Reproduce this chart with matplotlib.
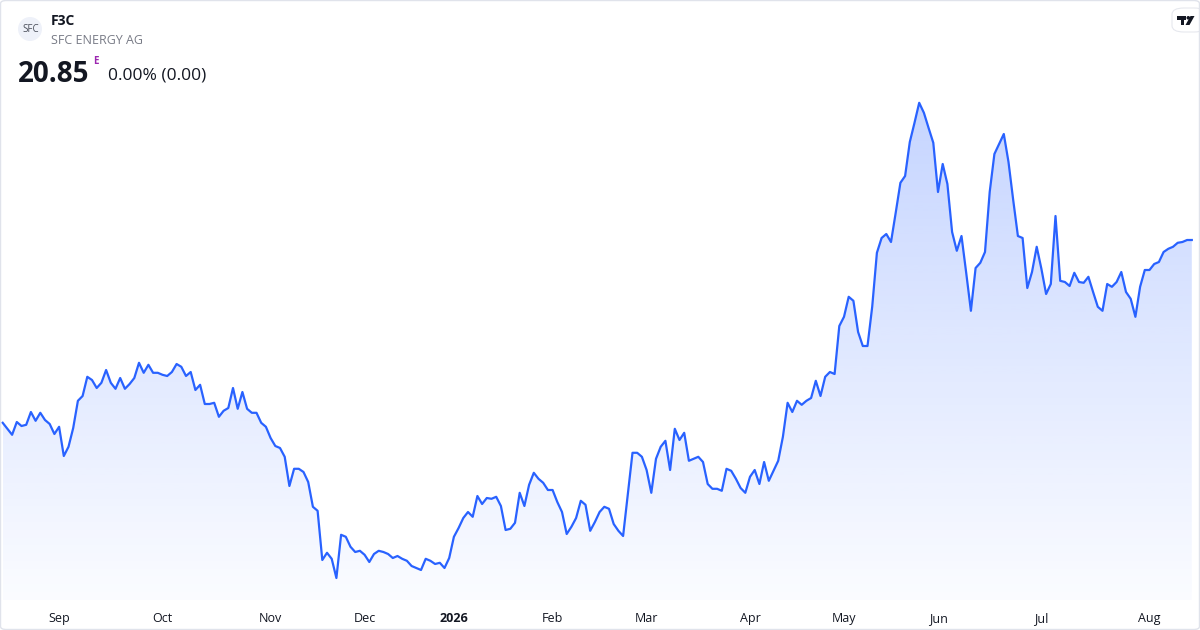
import numpy as np
import pandas as pd
import matplotlib
matplotlib.use("Agg")
import matplotlib.pyplot as plt
from matplotlib.patches import FancyBboxPatch, Circle, Ellipse, Polygon

plt.rcParams['font.family'] = ['Open Sans', 'DejaVu Sans']

# daily closes of F3C (SFC Energy AG), grouped by month
aug_2025 = [16.28, 16.13, 15.98, 16.30, 16.20, 16.23, 16.55, 16.33, 16.53, 16.35, 16.25, 16.00]
sep_2025 = [16.18, 15.45, 15.68, 16.15, 16.83, 16.95, 17.43, 17.35, 17.15, 17.28, 17.60,
            17.28, 17.13, 17.40, 17.13, 17.25, 17.40, 17.78, 17.53, 17.73, 17.53, 17.53]
oct_2025 = [17.48, 17.45, 17.55, 17.75, 17.68, 17.45, 17.55, 17.10, 17.23, 16.75, 16.75, 16.78,
            16.43, 16.58, 16.65, 17.15, 16.63, 17.05, 16.63, 16.53, 16.53, 16.28, 16.18]
nov_2025 = [15.90, 15.70, 15.65, 15.43, 14.70, 15.13, 15.13, 15.05, 14.80, 14.18,
            14.08, 12.85, 13.03, 12.88, 12.40, 13.48, 13.43, 13.18, 13.05, 13.08]
dec_2025 = [12.98, 12.80, 13.00, 13.08, 13.05, 13.00, 12.90, 12.95, 12.88, 12.83,
            12.70, 12.65, 12.60, 12.88, 12.83, 12.75, 12.78, 12.65, 12.90]
jan_2026 = [13.43, 13.65, 13.90, 14.05, 13.93, 14.45, 14.25, 14.40, 14.38, 14.43, 14.20,
            13.60, 13.63, 13.78, 14.53, 14.20, 14.73, 15.03, 14.88, 14.78, 14.60]
feb_2026 = [14.60, 14.30, 14.05, 13.50, 13.68, 13.90, 14.33, 14.23, 13.58, 13.80,
            14.05, 14.18, 14.13, 13.75, 13.58, 13.45, 14.48, 15.53, 15.53, 15.43]
mar_2026 = [15.10, 14.53, 15.38, 15.68, 15.83, 15.10, 16.13, 15.85, 16.03, 15.33, 15.38,
            15.43, 15.30, 14.75, 14.63, 14.63, 14.58, 15.13, 15.08, 14.88, 14.65, 14.53]
apr_2026 = [14.93, 15.10, 14.75, 15.30, 14.83, 15.08, 15.33, 15.93, 16.78, 16.55,
            16.83, 16.73, 16.83, 16.90, 17.33, 16.95, 17.43, 17.55, 17.50, 18.70]
may_2026 = [18.93, 19.43, 19.33, 18.55, 18.20, 18.20, 19.18, 20.53, 20.90, 21.00,
            20.80, 21.53, 22.28, 22.45, 23.30, 23.78, 24.28, 24.03, 23.65, 23.28]
jun_2026 = [22.05, 22.75, 22.25, 21.05, 20.58, 20.95, 20.03, 19.08, 20.15, 20.28, 20.55,
            22.05, 23.00, 23.25, 23.50, 22.80, 21.85, 20.95, 20.90, 19.65, 20.05, 20.68]
jul_2026 = [20.13, 19.50, 19.75, 21.45, 19.83, 19.80, 19.70, 20.03, 19.80, 19.78, 19.93, 19.55,
            19.18, 19.08, 19.75, 19.68, 19.80, 20.05, 19.55, 19.38, 18.93, 19.68, 20.10]
aug_2026 = [20.10, 20.25, 20.30, 20.55, 20.63, 20.68, 20.78, 20.80, 20.85, 20.85]

# Xetra closing days inside the window
holidays = ['2025-12-24', '2025-12-25', '2025-12-26', '2025-12-31', '2026-01-01',
            '2026-04-03', '2026-04-06', '2026-05-01']

ticker = "F3C"
company = "SFC ENERGY AG"
last_price = "20.85"
change_text = "0.00% (0.00)"

closes = np.array(aug_2025 + sep_2025 + oct_2025 + nov_2025 + dec_2025 + jan_2026 + feb_2026
                  + mar_2026 + apr_2026 + may_2026 + jun_2026 + jul_2026 + aug_2026)
dates = pd.bdate_range('2025-08-14', '2026-08-14', freq='C', holidays=holidays)
dates = dates[:len(closes)]
idx = np.arange(len(closes))

W, H = 1200, 630
fig = plt.figure(figsize=(12, 6.3), dpi=100)
fig.patch.set_facecolor('white')
ax = fig.add_axes([0, 0, 1, 1])
ax.set_axis_off()

# 4.7 px per trading day, first point at x=2.7px
ax.set_xlim(-2.7 / 4.7, (W - 2.7) / 4.7)
ax.set_ylim(26.85 - H / 40, 26.85)
base = 26.85 - 600 / 40

blue = '#2962FF'
poly = ax.fill_between(idx, closes, base, facecolor='none', edgecolor='none')
top = closes.max()
grad = np.zeros((256, 1, 4))
grad[:, 0, :3] = matplotlib.colors.to_rgb(blue)
grad[:, 0, 3] = np.linspace(0.02, 0.27, 256)
im = ax.imshow(grad, extent=[idx[0], idx[-1], base, top], origin='lower',
               aspect='auto', zorder=1, interpolation='bilinear')
im.set_clip_path(poly.get_paths()[0], transform=ax.transData)
ax.plot(idx, closes, color=blue, lw=1.6, zorder=3, solid_joinstyle='round')

# month labels at the first trading day of each month
months = dates.month.values
firsts = np.where(months != np.roll(months, 1))[0]
firsts = firsts[firsts > 0]
for i in firsts:
    d = dates[i]
    if d.month == 1:
        lab, fw = str(d.year), 'bold'
    else:
        lab, fw = d.strftime('%b'), 'normal'
    ax.text(i, 1 - 618.5 / H, lab, transform=ax.get_xaxis_transform(),
            ha='center', va='center', fontsize=9, color='#131722', fontweight=fw)

def fx(px):
    return px / W

def fy(py):
    return 1 - py / H

# header
fig.patches.append(Ellipse((fx(30), fy(29)), 24 / W, 24 / H, transform=fig.transFigure,
                           facecolor='#eef1f9', edgecolor='none'))
fig.text(fx(30.5), fy(30), "SFC", fontsize=7, color='#4a4e5a', ha='center', va='center')
fig.text(fx(51), fy(21), ticker, fontsize=10, fontweight='bold', color='#131722', va='center')
fig.text(fx(51), fy(41), company, fontsize=9, color='#787b86', va='center')
fig.text(fx(18), fy(75), last_price, fontsize=20, fontweight='bold', color='#131722', va='center')
fig.text(fx(93), fy(62), "E", fontsize=7, fontweight='bold', color='#9c27b0', va='center')
fig.text(fx(108), fy(75.5), change_text, fontsize=12.5, color='#131722', va='center')

# tradingview badge
fig.patches.append(FancyBboxPatch((fx(1172), fy(32)), 34 / W, 24 / H,
                                  boxstyle='round,pad=0,rounding_size=0.01',
                                  transform=fig.transFigure, facecolor='white',
                                  edgecolor='#e6e8ee', lw=0.8))
fig.patches.append(Polygon([(fx(1177), fy(16)), (fx(1186), fy(16)), (fx(1186), fy(19.5)),
                            (fx(1183.5), fy(19.5)), (fx(1183.5), fy(25)), (fx(1180.5), fy(25)),
                            (fx(1180.5), fy(19.5)), (fx(1177), fy(19.5))],
                           closed=True, transform=fig.transFigure, facecolor='#131722'))
fig.patches.append(Ellipse((fx(1188.3), fy(17.8)), 3.6 / W, 3.6 / H, transform=fig.transFigure,
                           facecolor='#131722'))
fig.patches.append(Polygon([(fx(1190.5), fy(16)), (fx(1194.5), fy(16)), (fx(1189.5), fy(25)),
                            (fx(1185.5), fy(25))],
                           closed=True, transform=fig.transFigure, facecolor='#131722'))

# outer frame
fig.patches.append(FancyBboxPatch((0.5 / W, 0.5 / H), 1 - 1 / W, 1 - 1 / H,
                                  boxstyle='round,pad=0,rounding_size=0.005',
                                  transform=fig.transFigure, facecolor='none',
                                  edgecolor='#e0e3eb', lw=1))

fig.savefig('out.png', dpi=100)
